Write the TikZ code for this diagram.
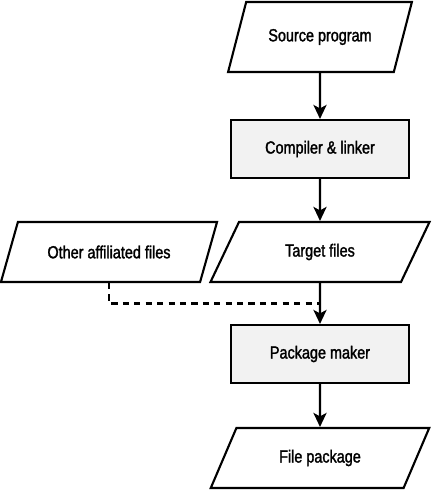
\documentclass[tikz,border=0pt]{standalone}
\usepackage{fontspec}
\setmainfont{Liberation Sans}[FakeStretch=0.82,FakeBold=1.6]
\usetikzlibrary{positioning,shapes.geometric,arrows.meta,calc}

\begin{document}
\begin{tikzpicture}[
io/.style={
    trapezium,
    trapezium left angle=63,
    trapezium right angle=117,
    trapezium stretches=true,
    draw=black,
    align=center,
    line width=1.2pt,
    minimum height=1.2cm
    },
proc/.style={
    rectangle,
    draw=black,
    fill=gray!10,
    align=center,
    line width=1.2pt,
    minimum width=3.56cm,
    minimum height=1.16cm
    },
flow/.style={
    line width=1.2pt,
    -{Stealth[length=8pt,width=7.5pt,inset=2pt]}}
]
\useasboundingbox (0,0) rectangle (8.7,-9.8);
\node(source) [io,minimum width=3.7cm,minimum height=1.4cm] at (6.4,-0.74) {Source program};
\node(compiler) [proc] at (6.4,-2.98) {Compiler \& linker};
\node(target) [io,minimum width=4.4cm] at (6.4,-5.04) {Target files};
\node(other) [io,minimum width=4.36cm] at (2.18,-5.04) {Other affiliated files};
\node(packer) [proc] at (6.4,-7.08) {Package maker};
\node(package) [io,minimum width=4.4cm] at (6.4,-9.16) {File package};
\coordinate(merge) at ($(target.south)!.5!(packer.north)$);
\draw[flow] (source) -- (compiler);
\draw[flow] (compiler) -- (target);
\draw[flow] (target) -- (packer);
\draw[flow] (packer) -- (package);
\draw[line width=1.2pt,dash pattern=on 3.5pt off 3pt] (other.south) |- (merge);
\end{tikzpicture}
\end{document}
